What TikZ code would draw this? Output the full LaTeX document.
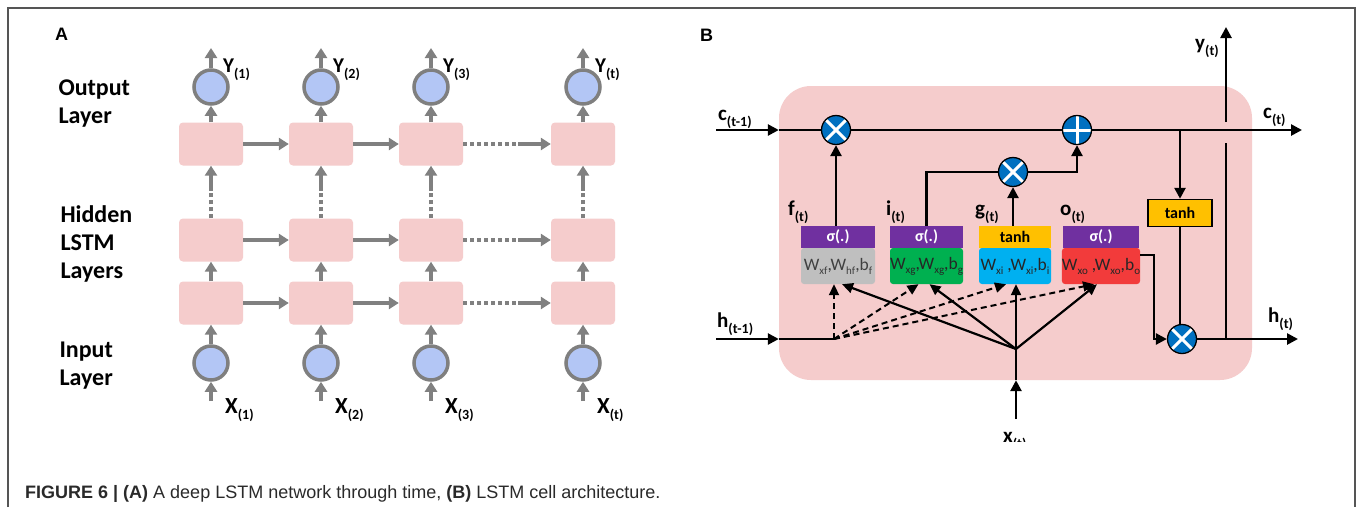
\documentclass[tikz,border=0pt]{standalone}
\usepackage{fontspec}
\setmainfont{Carlito}
\newfontfamily\capfont{Liberation Sans}
\usetikzlibrary{arrows.meta,calc}
\definecolor{cellpink}{HTML}{F5CCCC}
\definecolor{neurblue}{HTML}{B3C6F5}
\definecolor{neurgray}{HTML}{7F7F7F}
\definecolor{arrgray}{HTML}{808080}
\definecolor{mulblue}{HTML}{0070C0}
\definecolor{gpurple}{HTML}{7030A0}
\definecolor{ggray}{HTML}{BFBFBF}
\definecolor{ggreen}{HTML}{00B050}
\definecolor{gblue}{HTML}{00B0F0}
\definecolor{gred}{HTML}{F23B3B}
\definecolor{gyellow}{HTML}{FFC000}
\definecolor{framegray}{HTML}{555555}
\definecolor{captext}{HTML}{2A2A2A}
\newcommand{\lsb}[1]{\raisebox{-6pt}{\fontsize{14}{14}\selectfont #1}}
\newcommand{\wsb}[1]{\raisebox{-4pt}{\fontsize{11}{11}\selectfont #1}}
\tikzset{
  cell/.style={rectangle, rounded corners=4pt, fill=cellpink, minimum width=64pt, minimum height=43pt, inner sep=0pt},
  neuron/.style={circle, draw=neurgray, line width=3.5pt, fill=neurblue, minimum size=34pt, inner sep=0pt},
  garrow/.style={draw=arrgray, line width=3.5pt, -{Triangle[length=10pt,width=12pt]}},
  gdot/.style={draw=arrgray, line width=3.5pt, dash pattern=on 4pt off 3pt},
  alab/.style={anchor=base west, font=\bfseries\fontsize{24}{24}\selectfont, align=left},
  ylab/.style={anchor=base west, font=\bfseries\fontsize{21}{21}\selectfont, inner sep=0pt},
  xlab/.style={anchor=base west, font=\bfseries\fontsize{23}{23}\selectfont, inner sep=0pt},
  blab/.style={anchor=base west, font=\bfseries\fontsize{21}{21}\selectfont, inner sep=0pt},
  plab/.style={anchor=base west, font=\capfont\bfseries\fontsize{18}{18}\selectfont, inner sep=0pt},
  mulc/.style={circle, draw=black, line width=1.3pt, fill=mulblue, minimum size=29pt, inner sep=0pt,
    path picture={\draw[white, line width=3pt] (path picture bounding box.south west) -- (path picture bounding box.north east) (path picture bounding box.north west) -- (path picture bounding box.south east);}},
  plusc/.style={circle, draw=black, line width=1.3pt, fill=mulblue, minimum size=29pt, inner sep=0pt,
    path picture={\draw[white, line width=3pt] (path picture bounding box.north) -- (path picture bounding box.south) (path picture bounding box.west) -- (path picture bounding box.east);}},
  ghead/.style={rectangle, minimum height=22pt, inner sep=0pt, font=\bfseries\fontsize{16}{16}\selectfont},
  gbody/.style={rectangle, rounded corners=3pt, minimum height=36pt, inner sep=0pt, font=\fontsize{17.5}{17.5}\selectfont},
  bline/.style={draw=black, line width=2.6pt},
  barrow/.style={draw=black, line width=2.6pt, -{Triangle[length=11pt,width=11pt]}},
  sarr/.style={draw=black, line width=2.2pt, -{Triangle[length=11pt,width=10pt]}},
  dsh/.style={draw=black, line width=2pt, dash pattern=on 6pt off 4pt, -{Triangle[length=11pt,width=10pt]}},
}
\begin{document}
\begin{tikzpicture}[x=1pt,y=-1pt]
\useasboundingbox (0,0) rectangle (1357,507);
\fill[white] (0,0) rectangle (1357,507);
\draw[framegray, line width=1.2pt] (8,507) -- (8,8) -- (1355,8) -- (1355,507);

% ---------------- Panel A ----------------
\node[plab] (labA) at (55,40) {A};
\node[alab] (lout) at (55,95) {Output};
\node[alab] (lout2) at (55,123) {Layer};
\node[alab] (lhid) at (57,222) {Hidden};
\node[alab] (lhid2) at (57,250) {LSTM};
\node[alab] (lhid3) at (57,278) {Layers};
\node[alab] (linp) at (56,357) {Input};
\node[alab] (linp2) at (56,385) {Layer};

\foreach \i/\x/\s in {1/211/(1),2/321/(2),3/431/(3),4/583/(t)}{
  \node[cell] (h3\i) at (\x,144) {};
  \node[cell] (h2\i) at (\x,240) {};
  \node[cell] (h1\i) at (\x,303) {};
  \node[neuron] (out\i) at (\x,87) {};
  \node[neuron] (in\i) at (\x,363) {};
  \coordinate (ytip\i) at (\x,48);
  \coordinate (xbot\i) at (\x,401);
  \coordinate (vdot\i) at (\x,190);
  \draw[garrow] (xbot\i) -- (in\i);
  \draw[garrow] (in\i) -- (h1\i);
  \draw[garrow] (h1\i) -- (h2\i);
  \draw[gdot] (h2\i) -- (vdot\i);
  \draw[garrow] (vdot\i) -- (h3\i);
  \draw[garrow] (h3\i) -- (out\i);
  \draw[garrow] (out\i) -- (ytip\i);
  \node[ylab] (ylab\i) at (\x+12,72) {Y\lsb{\s}};
  \node[xlab] (xlab\i) at (\x+14,413) {X\lsb{\s}};
}
\foreach \r/\y in {3/144,2/240,1/303}{
  \coordinate (hd\r) at (518,\y);
  \draw[garrow] (h\r1) -- (h\r2);
  \draw[garrow] (h\r2) -- (h\r3);
  \draw[gdot] (h\r3) -- (hd\r);
  \draw[garrow] (hd\r) -- (h\r4);
}

% ---------------- Panel B ----------------
\node[plab] (labB) at (700,41) {B};
\node[fill=cellpink, rounded corners=32pt, minimum width=473pt, minimum height=294pt, inner sep=0pt] (cellbg) at (1015.5,233) {};

\coordinate (cin) at (716,130);
\coordinate (hin) at (716,339);
\coordinate (hp) at (834,339);
\coordinate (xp) at (1016,349);
\coordinate (xbot) at (1016,419);
\coordinate (cout) at (1302,130);
\coordinate (hout) at (1298,339);
\coordinate (ytop) at (1226,27);
\coordinate (ybrk1) at (1226,122);
\coordinate (ybrk2) at (1226,143);
\coordinate (ybot) at (1226,339);
\coordinate (cbr) at (1180,130);
\coordinate (ojn) at (1154,255);

% gate boxes
\node[gbody, fill=ggray, minimum width=74pt, text=black!75] (fb) at (838,266) {W\wsb{xf},W\wsb{hf},b\wsb{f}};
\node[ghead, fill=gpurple, minimum width=74pt, text=white] (fh) at (838,237) {σ(.)};
\node[gbody, fill=ggreen, minimum width=73pt, text=black!85] (ib) at (926.5,266) {W\wsb{xg},W\wsb{xg},b\wsb{g}};
\node[ghead, fill=gpurple, minimum width=73pt, text=white] (ih) at (926.5,237) {σ(.)};
\node[gbody, fill=gblue, minimum width=72pt, text=black!85] (gb) at (1015,266) {W\wsb{xi} ,W\wsb{xi},b\wsb{i}};
\node[ghead, fill=gyellow, minimum width=72pt, text=black] (gh) at (1015,237) {tanh};
\node[gbody, fill=gred, minimum width=76pt, text=black!85] (ob) at (1101,266) {W\wsb{xo} ,W\wsb{xo},b\wsb{o}};
\node[ghead, fill=gpurple, minimum width=76pt, text=white] (oh) at (1101,237) {σ(.)};

\node[rectangle, draw=black, line width=1.5pt, fill=gyellow, minimum width=64pt, minimum height=27pt, inner sep=0pt, font=\bfseries\fontsize{16}{16}\selectfont] (tanhR) at (1180,213) {tanh};

% operators
\node[mulc] (m1) at (836,130) {};
\node[plusc] (pl) at (1077,130) {};
\node[mulc] (mg) at (1013,172) {};
\node[mulc] (mh) at (1182,339) {};

% cell state line
\draw[barrow] (cin) -- (cin -| cellbg.west);
\draw[bline] (cellbg.west |- cin) -- (m1);
\draw[bline] (m1) -- (pl);
\draw[barrow] (pl) -- (cout);
\draw[barrow] (cbr) -- (tanhR);
\draw[bline] (tanhR.south) -- (tanhR.south |- mh.north);

% gates to operators
\draw[barrow] (fh.north -| m1) -- (m1);
\draw[bline] (ih.north) -- (ih.north |- mg) -- (mg);
\draw[barrow] (gh.north -| mg) -- (mg);
\draw[barrow] (mg) -- (mg -| pl) -- (pl);
\draw[barrow] (ob.east |- ojn) -- (ojn) -- (ojn |- mh) -- (mh);

% hidden state
\draw[barrow] (hin) -- (hin -| cellbg.west);
\draw[bline] (cellbg.west |- hin) -- (hp);
\draw[barrow] (mh) -- (hout);
\draw[bline] (ybot) -- (ybrk2);
\draw[barrow] (ybrk1) -- (ytop);

% input x
\draw[barrow] (xbot) -- (xbot |- cellbg.south);
\draw[bline] (xbot |- cellbg.south) -- (xp);

% dashed from h(t-1)
\draw[dsh] (hp) -- ([xshift=-4pt]fb.south);
\draw[dsh] (hp) -- ([xshift=-8pt]ib.south);
\draw[dsh] (hp) -- ([xshift=-9pt]gb.south);
\draw[dsh] (hp) -- ([xshift=-7pt]ob.south);
% solid from x(t)
\draw[sarr] (xp) -- ([xshift=4pt]fb.south);
\draw[sarr] (xp) -- ([xshift=3pt]ib.south);
\draw[sarr] (xp) -- (xp |- gb.south);
\draw[sarr] (xp) -- ([xshift=-4pt]ob.south);

% labels
\node[blab] (lc0) at (718,120) {c\lsb{(t-1)}};
\node[blab] (lh0) at (717,327) {h\lsb{(t-1)}};
\node[blab] (lc1) at (1263,118) {c\lsb{(t)}};
\node[blab] (lh1) at (1268,322) {h\lsb{(t)}};
\node[blab] (ly1) at (1195,49) {y\lsb{(t)}};
\node[blab] (lf) at (788,215) {f\lsb{(t)}};
\node[blab] (li) at (886,215) {i\lsb{(t)}};
\node[blab] (lg) at (975,215) {g\lsb{(t)}};
\node[blab] (lo) at (1060,215) {o\lsb{(t)}};
\begin{scope}
\clip (990,420) rectangle (1050,441.5);
\node[blab] (lx) at (1003,442) {x\lsb{(t)}};
\end{scope}

% caption
\node[anchor=base west, inner sep=0pt, text=captext, font=\capfont\fontsize{18}{18}\selectfont] (cap) at (25,498)
  {\textbf{FIGURE 6 | (A)} A deep LSTM network through time, \textbf{(B)} LSTM cell architecture.};
\end{tikzpicture}
\end{document}
